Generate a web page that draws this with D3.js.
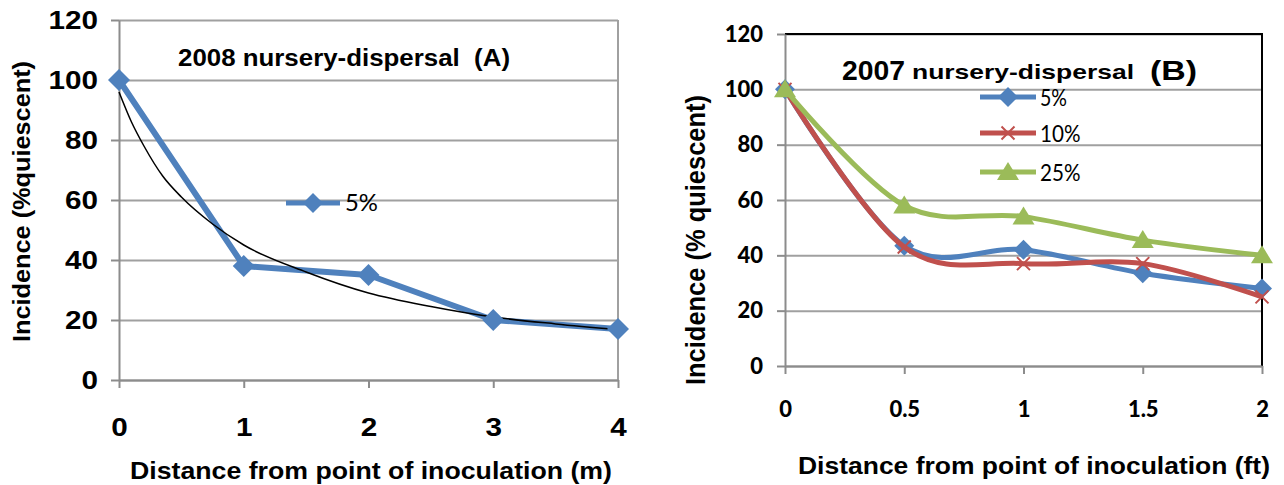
<!DOCTYPE html>
<html>
<head>
<meta charset="utf-8">
<script src="https://cdn.jsdelivr.net/npm/d3@7"></script>
<style>
  html, body { margin: 0; padding: 0; background: #fff; }
  svg { display: block; }
  text { white-space: pre; }
</style>
</head>
<body>
<svg id="chart" width="1284" height="485"></svg>
<script>
// panel A: 2008 nursery dispersal, distance in m
const distA = [0, 1, 2, 3, 4];
const incidenceA5 = [100, 38, 35, 20, 17];
// thin black fitted curve
const trendDistA = [0, 0.1, 0.2, 0.35, 0.5, 0.75, 1, 1.5, 2, 2.5, 3, 3.5, 4];
const trendIncA = [96, 86, 78, 68, 61, 52, 45, 36, 29, 24.5, 21, 18.7, 16.8];

// panel B: 2007 nursery dispersal, distance in ft
const distB = [0, 0.5, 1, 1.5, 2];
const incidenceB5 = [100, 43.5, 42, 33.5, 28];
const incidenceB10 = [100, 43, 37, 37, 25];
const incidenceB25 = [100, 58, 54, 45.5, 40];
const seriesNamesB = ["5%", "10%", "25%"];

const yTicks = [0, 20, 40, 60, 80, 100, 120];
const xTicksA = [0, 1, 2, 3, 4];
const xTicksB = [0, 0.5, 1, 1.5, 2];

const COLORS = { blue: "#4f81bd", red: "#c0504d", green: "#9bbb59", grid: "#a0a0a0", axis: "#8c8c8c" };
const ARIAL = "'Liberation Sans', Arial, sans-serif";
const CALIBRI = "Lato, 'Open Sans', sans-serif";

const svg = d3.select("#chart");

// helper: fixed-width text
function label(g, x, y, str, o) {
  const t = g.append("text")
    .attr("x", x).attr("y", y)
    .attr("font-family", o.family || ARIAL)
    .attr("font-size", o.size)
    .attr("font-weight", o.weight || "bold")
    .attr("fill", "#000")
    .attr("text-anchor", o.anchor || "start")
    .text(str);
  if (o.len) t.attr("textLength", o.len).attr("lengthAdjust", "spacingAndGlyphs");
  if (o.rotate) t.attr("transform", `rotate(-90 ${x} ${y})`);
  return t;
}

function diamond(g, x, y, r, color) {
  g.append("path")
    .attr("d", `M${x},${y - r}L${x + r},${y}L${x},${y + r}L${x - r},${y}Z`)
    .attr("fill", color);
}
function triangle(g, x, y, r, color) {
  g.append("path")
    .attr("d", `M${x},${y - r}L${x + r * 1.1},${y + r * 0.8}L${x - r * 1.1},${y + r * 0.8}Z`)
    .attr("fill", color);
}
function cross(g, x, y, r, color) {
  g.append("path")
    .attr("d", `M${x - r},${y - r}L${x + r},${y + r}M${x + r},${y - r}L${x - r},${y + r}`)
    .attr("stroke", color).attr("stroke-width", 2).attr("fill", "none");
}

function frame(g, x, y, o) {
  const [x0, x1] = x.range();
  const [y0, y1] = y.range();
  const styleText = s => s.selectAll("text")
    .attr("font-family", o.tickFamily).attr("font-size", o.tickSize)
    .attr("font-weight", o.tickWeight || "bold").attr("fill", "#000")
    .each(function () {
      if (o.charW) d3.select(this).attr("textLength", this.textContent.length * o.charW)
        .attr("lengthAdjust", "spacingAndGlyphs");
    });
  // gridlines
  g.append("g")
    .attr("transform", `translate(${x0},0)`)
    .call(d3.axisLeft(y).tickValues(yTicks).tickSize(-(x1 - x0)).tickFormat(""))
    .call(s => s.select(".domain").remove())
    .call(s => s.selectAll("line").attr("stroke", COLORS.grid).attr("stroke-width", 2));
  if (o.topRightBlack) {
    g.append("path").attr("d", `M${x0},${y1}H${x1}V${y0}`)
      .attr("fill", "none").attr("stroke", "#000").attr("stroke-width", 2);
  } else {
    g.append("line").attr("x1", x1).attr("x2", x1).attr("y1", y1).attr("y2", y0)
      .attr("stroke", COLORS.grid).attr("stroke-width", 2);
  }
  // y axis
  g.append("g")
    .attr("transform", `translate(${x0},0)`)
    .call(d3.axisLeft(y).tickValues(yTicks).tickSize(8).tickPadding(o.yPad).tickSizeOuter(0))
    .call(s => s.select(".domain").attr("stroke", COLORS.axis).attr("stroke-width", 2))
    .call(s => s.selectAll("line").attr("stroke", COLORS.axis).attr("stroke-width", 2))
    .call(styleText);
  // x axis
  g.append("g")
    .attr("transform", `translate(0,${y0})`)
    .call(d3.axisBottom(x).tickValues(o.xTicks).tickSize(8).tickPadding(o.xPad).tickSizeOuter(0)
      .tickFormat(d3.format("")))
    .call(s => s.select(".domain").attr("stroke", COLORS.axis).attr("stroke-width", 2))
    .call(s => s.selectAll("line").attr("stroke", COLORS.axis).attr("stroke-width", 2))
    .call(styleText);
}

// ---------- panel A ----------
const gA = svg.append("g");
const xA = d3.scaleLinear().domain([0, 4]).range([119, 618]);
const yA = d3.scaleLinear().domain([0, 120]).range([380, 20]);
frame(gA, xA, yA, { xTicks: xTicksA, yPad: 13, xPad: 30, tickFamily: ARIAL, tickSize: 25, charW: 16.5 });

label(gA, 178, 66, "2008 nursery-dispersal  (A)", { size: 23, len: 332 });
label(gA, 130, 479, "Distance from point of inoculation (m)", { size: 24, len: 482 });
label(gA, 30, 342, "Incidence (%quiescent)", { size: 24, len: 281, rotate: true });

gA.append("path")
  .datum(distA.map((d, i) => [d, incidenceA5[i]]))
  .attr("fill", "none").attr("stroke", COLORS.blue).attr("stroke-width", 6)
  .attr("stroke-linejoin", "round")
  .attr("d", d3.line().x(d => xA(d[0])).y(d => yA(d[1])));
gA.append("path")
  .datum(trendDistA.map((d, i) => [d, trendIncA[i]]))
  .attr("fill", "none").attr("stroke", "#000").attr("stroke-width", 1.5)
  .attr("d", d3.line().curve(d3.curveMonotoneX).x(d => xA(d[0])).y(d => yA(d[1])));
distA.forEach((d, i) => diamond(gA, xA(d), yA(incidenceA5[i]), 11, COLORS.blue));

// legend A
gA.append("line").attr("x1", 286).attr("x2", 340).attr("y1", 203).attr("y2", 203)
  .attr("stroke", COLORS.blue).attr("stroke-width", 5);
diamond(gA, 313, 203, 10, COLORS.blue);
label(gA, 345, 211, "5%", { size: 23, weight: "normal", family: CALIBRI, len: 33 });

// ---------- panel B ----------
const gB = svg.append("g");
const xB = d3.scaleLinear().domain([0, 2]).range([785, 1262]);
const yB = d3.scaleLinear().domain([0, 120]).range([366, 34]);
frame(gB, xB, yB, { xTicks: xTicksB, yPad: 14, xPad: 27, tickFamily: CALIBRI, tickSize: 22,
  tickWeight: 900, topRightBlack: true });

label(gB, 842, 80, "2007", { size: 28, len: 63 });
label(gB, 912, 79, "nursery-dispersal", { size: 21, len: 222 });
label(gB, 1150, 80, "(B)", { size: 28, len: 47 });

label(gB, 798, 474, "Distance from point of inoculation (ft)", { size: 23, len: 472 });
label(gB, 705, 385, "Incidence (% quiescent)", { size: 27, len: 290, rotate: true });

const seriesB = [
  { name: seriesNamesB[0], values: incidenceB5, color: COLORS.blue, mark: diamond },
  { name: seriesNamesB[1], values: incidenceB10, color: COLORS.red, mark: cross },
  { name: seriesNamesB[2], values: incidenceB25, color: COLORS.green, mark: triangle },
];
const markSize = s => (s.mark === cross ? 6.5 : 10);
const smooth = d3.line().curve(d3.curveCatmullRom.alpha(0)).x(d => xB(d[0])).y(d => yB(d[1]));
seriesB.forEach(s => {
  gB.append("path")
    .datum(distB.map((d, i) => [d, s.values[i]]))
    .attr("fill", "none").attr("stroke", s.color).attr("stroke-width", 5)
    .attr("d", smooth);
  distB.forEach((d, i) => s.mark(gB, xB(d), yB(s.values[i]), markSize(s), s.color));
});

// legend B
const legY = [97, 133, 172];
seriesB.forEach((s, i) => {
  gB.append("line").attr("x1", 980).attr("x2", 1036).attr("y1", legY[i]).attr("y2", legY[i])
    .attr("stroke", s.color).attr("stroke-width", 5);
  s.mark(gB, 1008, legY[i], markSize(s), s.color);
  label(gB, 1040, legY[i] + 9, s.name, { size: 23, weight: "normal", family: CALIBRI,
    len: s.name.length * 13.5 });
});
</script>
</body>
</html>
